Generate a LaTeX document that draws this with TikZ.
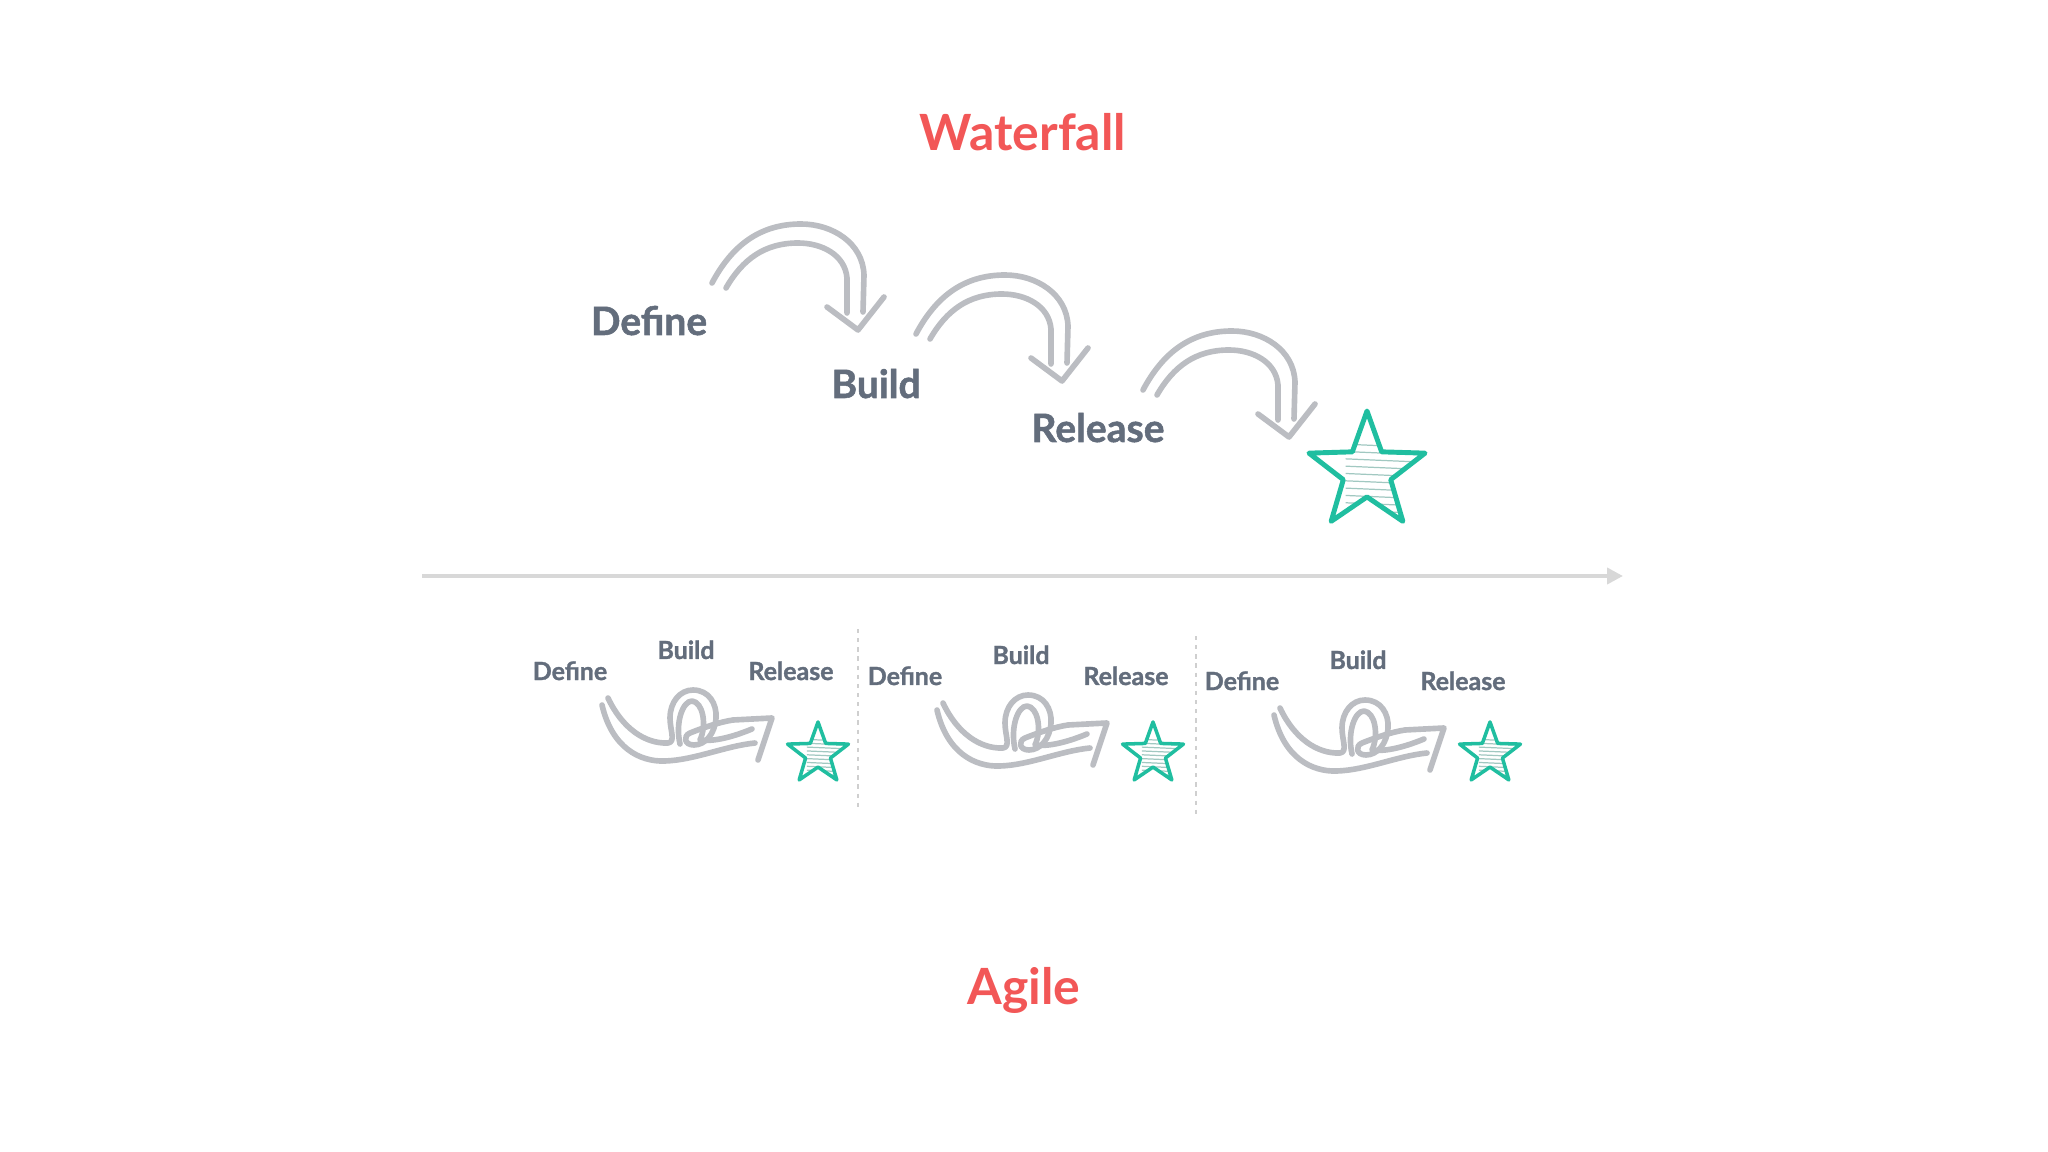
\documentclass[tikz,border=0pt]{standalone}
\usepackage{fontspec}
\setmainfont{Lato}
\newfontfamily\labelfont{Lato}[BoldFeatures={FakeBold=1.3}]
\usetikzlibrary{shapes.geometric,arrows.meta}

\definecolor{wfred}{RGB}{242,87,87}
\definecolor{labelgray}{RGB}{99,109,124}
\definecolor{sketchgray}{RGB}{187,189,194}
\definecolor{goalteal}{RGB}{32,190,160}
\definecolor{axisgray}{RGB}{216,216,216}

\tikzset{
  title/.style={font=\fontsize{14.2}{16}\selectfont\bfseries, text=wfred, anchor=base},
  biglabel/.style={font=\labelfont\fontsize{11.1}{13}\selectfont\bfseries, text=labelgray, anchor=base},
  smalllabel/.style={font=\labelfont\fontsize{7.1}{8.5}\selectfont\bfseries, text=labelgray, anchor=base},
  sketch/.style={draw=sketchgray, line width=1.6pt, line cap=round, line join=round},
  hatch/.style={draw=goalteal!45!gray!55, line width=0.35pt},
  goalstar/.style={star, star points=5, star point ratio=2.45, draw=goalteal,
    inner sep=0pt, line join=round,
    path picture={
      \foreach \k in {-3,...,8}
        \draw[hatch] ([shift={(-0.35*#1,\k*0.12*#1)}]path picture bounding box.center) -- ++(1.4*#1,0.06*#1);
    }},
}

\begin{document}
\begin{tikzpicture}[x=0.01cm, y=-0.01cm]
\useasboundingbox (0,0) rectangle (2048,1152);

% Waterfall
\node[title] (wf) at (1023,151) {Waterfall};
\node[biglabel] (def) at (649,335) {Define};
\node[biglabel] (build) at (876,398) {Build};
\node[biglabel] (rel) at (1098,442) {Release};

% hand drawn jump arrows
\foreach \sx/\sy in {712/283, 916/334, 1143/390}{
  \begin{scope}[shift={(\sx,\sy)}]
    \draw[sketch] (0,0) to[out=62,in=180] (89,-59) to[out=0,in=92] (152,-8) -- (151,29);
    \draw[sketch] (14,5) to[out=60,in=180] (86,-40) to[out=0,in=95] (135,-5) -- (135,30);
    \draw[sketch] (115,24) -- (146,47) -- (172,14);
  \end{scope}
}

\node[goalstar=61, minimum size=1.22cm, line width=1.4pt] (wstar) at (1367,472) {};

% time line
\coordinate (t0) at (422,576);
\coordinate (t1) at (1623,576);
\draw[axisgray, line width=1.1pt, -{Triangle[length=4.5pt,width=4.5pt]}] (t0) -- (t1);

% sprint separators
\coordinate (sa) at (858,629);
\coordinate (sb) at (858,810);
\coordinate (sc) at (1196,636);
\coordinate (sd) at (1196,816);
\draw[axisgray!90!gray, line width=0.6pt, dash pattern=on 1.2pt off 1.4pt] (sa) -- (sb);
\draw[axisgray!90!gray, line width=0.6pt, dash pattern=on 1.2pt off 1.4pt] (sc) -- (sd);

% Agile sprints
\foreach \i/\dx/\dy in {1/0/0, 2/335/5, 3/672/10}{
  \begin{scope}[shift={(\dx,\dy)}]
    \node[smalllabel] (adef\i) at (570,680) {Define};
    \node[smalllabel] (abuild\i) at (686,659) {Build};
    \node[smalllabel] (arel\i) at (791,680) {Release};
    % swirl
    \draw[sketch] (602,705) .. controls (612,748) and (640,762) .. (665,761)
      .. controls (695,760) and (725,746) .. (755,743);
    \draw[sketch] (608,698) .. controls (622,728) and (645,744) .. (668,743)
      .. controls (676,742) and (670,730) .. (670,718)
      .. controls (670,702) and (680,690) .. (693,690)
      .. controls (709,690) and (717,704) .. (716,718)
      .. controls (715,734) and (705,745) .. (694,745)
      .. controls (684,745) and (683,736) .. (690,733)
      .. controls (705,727) and (720,722) .. (733,720) -- (772,718) -- (758,760);
    \draw[sketch] (680,744) .. controls (675,722) and (683,701) .. (692,701)
      .. controls (703,702) and (707,725) .. (700,740)
      .. controls (715,742) and (735,736) .. (752,729);
  \end{scope}
  \node[goalstar=32, minimum size=0.64cm, line width=1pt] (astar\i) at (818+\dx,754) {};
}

\node[title] (ag) at (1024,1004) {Agile};

\end{tikzpicture}
\end{document}
